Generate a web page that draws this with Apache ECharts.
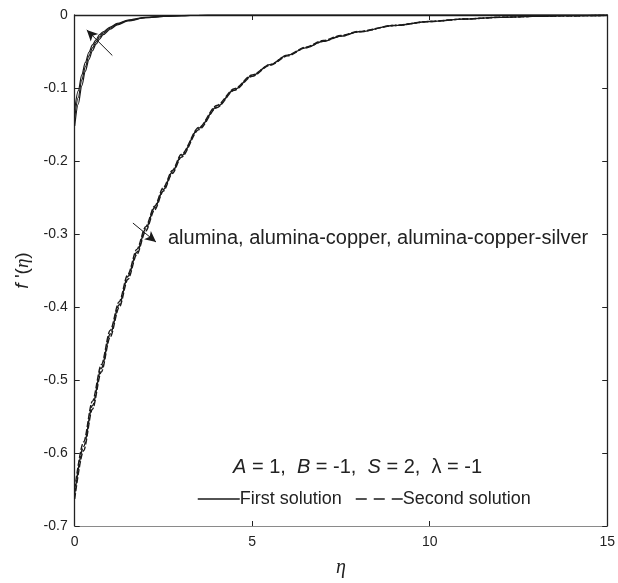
<!DOCTYPE html>
<html>
<head>
<meta charset="utf-8">
<script src="https://cdn.jsdelivr.net/npm/echarts@6/dist/echarts.min.js"></script>
<style>
html,body{margin:0;padding:0;background:#fff;}
#chart{width:618px;height:583px;}
</style>
</head>
<body>
<div id="chart"></div>
<script>
// ---- data ----
var etaFirst = [0,0.1,0.2,0.3,0.4,0.5,0.6,0.7,0.8,1.0,1.2,1.5,2.0,2.5,3.0,3.5,4,5,15];
var firstAlumina = [-0.152,-0.122,-0.097,-0.077,-0.061,-0.049,-0.040,-0.033,-0.027,-0.0195,-0.0135,-0.0081,-0.0038,-0.0019,-0.0010,-0.0004,-0.0002,-0.00005,0];
var firstAluCu = [-0.141,-0.113,-0.089,-0.071,-0.056,-0.045,-0.037,-0.030,-0.025,-0.018,-0.0125,-0.0075,-0.0035,-0.0018,-0.0009,-0.0004,-0.0002,-0.00005,0];
var firstAluCuAg = [-0.130,-0.104,-0.082,-0.065,-0.051,-0.041,-0.034,-0.027,-0.023,-0.0165,-0.0115,-0.0069,-0.0032,-0.0017,-0.0008,-0.0004,-0.0002,-0.00005,0];

var etaSecond = [0,0.25,0.5,0.75,1,1.25,1.5,1.75,2,2.25,2.5,2.75,3,3.5,4,4.5,5,5.5,6,6.5,7,7.5,8,9,10,11,12,13,14,15];
var secondAlumina = [-0.663,-0.597,-0.540,-0.489,-0.441,-0.401,-0.362,-0.328,-0.296,-0.267,-0.241,-0.217,-0.195,-0.157,-0.127,-0.103,-0.084,-0.069,-0.056,-0.045,-0.036,-0.029,-0.023,-0.0145,-0.009,-0.0055,-0.0032,-0.0018,-0.001,-0.0005];
var secondAluCu = [-0.656,-0.591,-0.535,-0.484,-0.437,-0.397,-0.358,-0.325,-0.293,-0.264,-0.239,-0.215,-0.193,-0.155,-0.126,-0.102,-0.083,-0.068,-0.055,-0.045,-0.036,-0.029,-0.023,-0.0144,-0.0089,-0.0054,-0.0032,-0.0018,-0.001,-0.0005];
var secondAluCuAg = [-0.650,-0.585,-0.529,-0.479,-0.432,-0.393,-0.355,-0.321,-0.290,-0.262,-0.236,-0.213,-0.191,-0.154,-0.124,-0.101,-0.082,-0.068,-0.055,-0.044,-0.035,-0.028,-0.0225,-0.0142,-0.0088,-0.0054,-0.0031,-0.0018,-0.001,-0.0005];

var xTicks = [0,5,10,15];
var yTicks = [0,-0.1,-0.2,-0.3,-0.4,-0.5,-0.6,-0.7];

// annotation arrows (data coordinates)
var arrowFirst = [[1.06,-0.0555],[0.34,-0.0205]];
var arrowSecond = [[1.64,-0.285],[2.29,-0.311]];
var labelNano = 'alumina, alumina-copper, alumina-copper-silver';
var legendNames = ['First solution','Second solution'];

function pairs(xs, ys){ return xs.map(function(x,i){ return [x, ys[i]]; }); }

var ink = '#1a1a1a';
function lineSeries(name, xs, ys, dashed){
  return {
    type:'line', name:name, data:pairs(xs,ys), showSymbol:false, symbol:'none',
    xAxisIndex:0, yAxisIndex:0,
    smooth:0.3, smoothMonotone:'x', animation:false, silent:true,
    lineStyle:{color:ink, width: dashed ? 1.4 : 1.2, type: dashed ? [6,2] : 'solid'},
    itemStyle:{color:ink}
  };
}

var series = [
  lineSeries(legendNames[0], etaFirst, firstAlumina, false),
  lineSeries(legendNames[0], etaFirst, firstAluCu, false),
  lineSeries(legendNames[0], etaFirst, firstAluCuAg, false),
  lineSeries(legendNames[1], etaSecond, secondAlumina, true),
  lineSeries(legendNames[1], etaSecond, secondAluCu, true),
  lineSeries(legendNames[1], etaSecond, secondAluCuAg, true)
];
series.push({
  type:'line', data:[], silent:true, animation:false, xAxisIndex:0, yAxisIndex:0,
  markLine:{
    silent:true, animation:false, symbol:['none','arrow'], symbolSize:[8,11],
    label:{show:false},
    lineStyle:{color:ink, width:1, type:'solid'},
    data:[
      [{coord:arrowFirst[0]},{coord:arrowFirst[1]}],
      [{coord:arrowSecond[0]},{coord:arrowSecond[1]}]
    ]
  }
});

var chart = echarts.init(document.getElementById('chart'), null, {renderer:'canvas'});
var axisFont = 'Liberation Sans, Arial, sans-serif';
var legendCommon = {
  top:490, padding:0, itemHeight:14, itemGap:0, selectedMode:false,
  itemStyle:{opacity:0, borderWidth:0},
  textStyle:{fontFamily:axisFont, fontSize:18, color:'#222', padding:[0,0,0,-5]}
};
chart.setOption({
  backgroundColor:'#fff',
  animation:false,
  grid:{left:74.7, right:8, top:15, bottom:56, containLabel:false},
  legend:[
    Object.assign({}, legendCommon, {data:[legendNames[0]], left:197, itemWidth:42,
      lineStyle:{width:1.5, type:'solid', color:ink}}),
    Object.assign({}, legendCommon, {data:[legendNames[1]], left:355, itemWidth:47,
      lineStyle:{width:1.5, type:[11,7], color:ink}})
  ],
  xAxis:[{
    type:'value', position:'bottom', min:xTicks[0], max:xTicks[xTicks.length-1], interval:5,
    name:'η', nameLocation:'middle', nameGap:32,
    nameTextStyle:{fontFamily:'Liberation Serif, serif', fontStyle:'italic', fontSize:20, color:'#222'},
    axisLine:{onZero:false, lineStyle:{color:'#8a8a8a', width:1.2}},
    axisTick:{inside:true, length:5, lineStyle:{color:'#222'}},
    axisLabel:{fontFamily:axisFont, fontSize:14, color:'#222', margin:9,
      formatter:function(v){ return xTicks.indexOf(v)>=0 ? String(v) : ''; }},
    splitLine:{show:false}
  },{
    type:'value', position:'top', min:xTicks[0], max:xTicks[xTicks.length-1], interval:5,
    axisLine:{onZero:false, lineStyle:{color:'#222', width:1.3}},
    axisTick:{inside:true, length:5, lineStyle:{color:'#222'}},
    axisLabel:{show:false}, splitLine:{show:false}
  }],
  yAxis:[{
    type:'value', position:'left', min:yTicks[yTicks.length-1], max:yTicks[0], interval:0.1,
    name:'{f|f} \'({e|η})', nameLocation:'middle', nameGap:40, nameRotate:90,
    nameTextStyle:{fontFamily:axisFont, fontSize:19, color:'#222',
      rich:{f:{fontStyle:'italic', fontFamily:axisFont, fontSize:19, color:'#222'},
            e:{fontStyle:'italic', fontFamily:'Liberation Serif, serif', fontSize:19, color:'#222'}}},
    axisLine:{onZero:false, lineStyle:{color:'#222', width:1.3}},
    axisTick:{inside:true, length:5, lineStyle:{color:'#222'}},
    axisLabel:{fontFamily:axisFont, fontSize:14, color:'#222', margin:7,
      formatter:function(v){ var r=Math.round(v*10)/10; return r===0 ? '0' : r.toFixed(1); }},
    splitLine:{show:false}
  },{
    type:'value', position:'right', min:yTicks[yTicks.length-1], max:yTicks[0], interval:0.1,
    axisLine:{onZero:false, lineStyle:{color:'#222', width:1.3}},
    axisTick:{inside:true, length:5, lineStyle:{color:'#222'}},
    axisLabel:{show:false}, splitLine:{show:false}
  }],
  graphic:[
    {type:'text', left:168, top:228, silent:true,
     style:{text:labelNano, fill:'#222', font:'20px Liberation Sans, Arial, sans-serif'}},
    {type:'text', left:233, top:457, silent:true,
     style:{text:'{i|A} = 1,  {i|B} = -1,  {i|S} = 2,  λ = -1', fill:'#222',
       font:'20px Liberation Sans, Arial, sans-serif',
       rich:{i:{fontStyle:'italic', fontSize:20, fontFamily:'Liberation Sans, Arial, sans-serif', fill:'#222'}}}}
  ],
  series:series
});
</script>
</body>
</html>
